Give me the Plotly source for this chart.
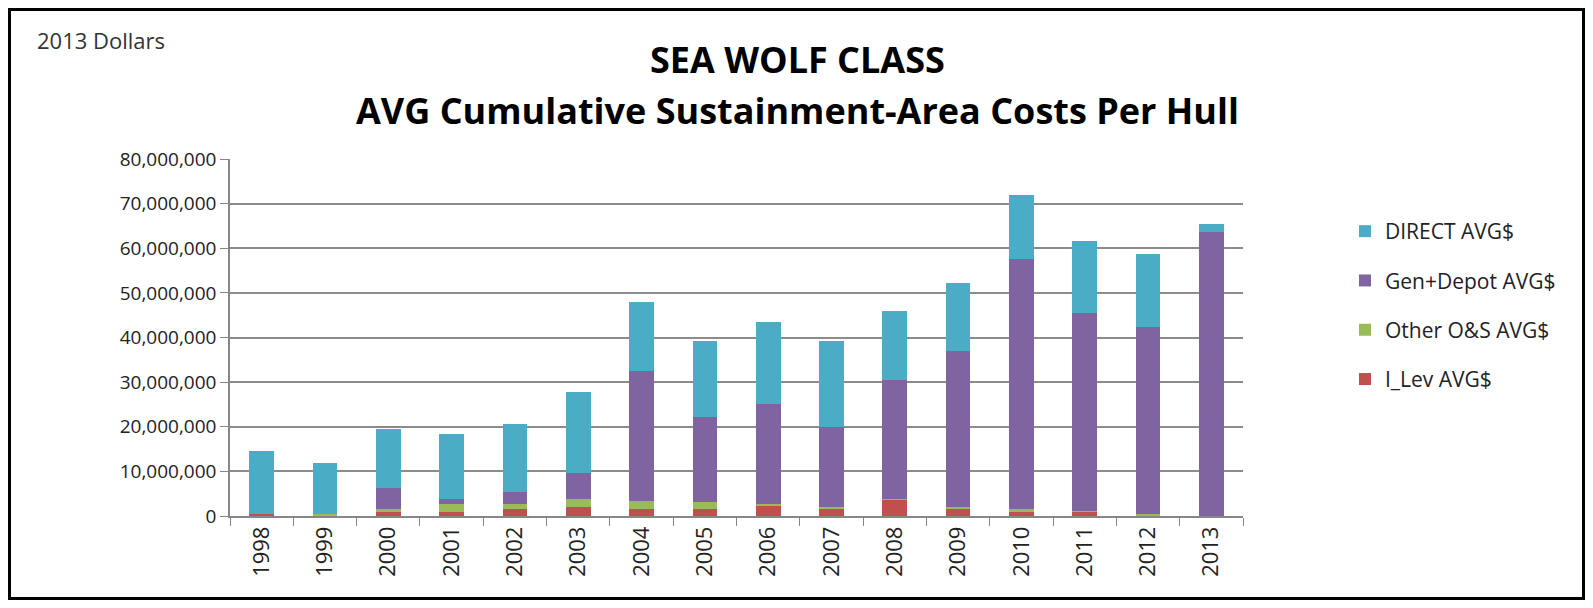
import plotly.graph_objects as go

years = [str(y) for y in range(1998, 2014)]

# values in millions of dollars
i_lev = [0.35, 0.1, 0.9, 0.9, 1.5, 2.0, 1.5, 1.5, 2.2, 1.5, 3.7, 1.5, 0.8, 1.0, 0.05, 0.0]
other_os = [0.0, 0.25, 0.7, 1.7, 1.2, 1.7, 1.8, 1.7, 0.5, 0.5, 0.05, 0.5, 0.8, 0.1, 0.3, 0.0]
gen_depot = [0.0, 0.0, 4.7, 1.1, 2.6, 5.9, 29.2, 19.0, 22.3, 18.0, 26.7, 35.0, 56.1, 44.4, 42.0, 63.7]
direct = [14.25, 11.55, 13.2, 14.7, 15.3, 18.1, 15.4, 17.0, 18.5, 19.2, 15.4, 15.3, 14.2, 16.1, 16.4, 1.7]

# stacked bottom to top; legend lists them top to bottom
series = [
    ("I_Lev AVG$", i_lev, "#C0504D"),
    ("Other O&S AVG$", other_os, "#9BBB59"),
    ("Gen+Depot AVG$", gen_depot, "#8064A2"),
    ("DIRECT AVG$", direct, "#4BACC6"),
]

# the page body has an 8px margin on every side; keep the figure inside the window
OFF = 8
W, H = 1593 - 2 * OFF, 608 - 2 * OFF
L = 230 - OFF
T = 159 - OFF
PW = 1243 - 230
PH = 516 - 159
R = W - L - PW
B = H - T - PH


def px_x(p):
    return (p - OFF - L) / PW


def px_y(p):
    return (T + PH - (p - OFF)) / PH


FONT = "Open Sans"

fig = go.Figure()
for i, (name, vals, color) in enumerate(series):
    fig.add_trace(go.Bar(
        x=years,
        y=[v * 1e6 for v in vals],
        name=name,
        legendgroup=name,
        legendrank=100 - i,
        marker=dict(color=color, line=dict(width=0)),
    ))

fig.update_layout(
    width=W, height=H,
    margin=dict(l=L, r=R, t=T, b=B),
    barmode="stack",
    bargap=0.61,
    plot_bgcolor="white",
    paper_bgcolor="white",
    font=dict(family=FONT, color="#222222"),
    showlegend=True,
    legend=dict(
        x=px_x(1345), y=px_y(211), xanchor="left", yanchor="top",
        traceorder="grouped", tracegroupgap=19,
        font=dict(size=21, family=FONT, color="#222222"),
        itemwidth=30,
    ),
    xaxis=dict(
        type="category",
        tickangle=-90,
        ticks="outside", tickson="boundaries", ticklen=8, tickcolor="#878787",
        showline=True, linecolor="#878787", linewidth=1.5,
        tickfont=dict(size=22, family=FONT, color="#222222"),
    ),
    yaxis=dict(
        range=[0, 80e6], dtick=10e6, tickformat=",",
        showgrid=True, gridcolor="#8c8c8c", gridwidth=1.5,
        showline=True, linecolor="#878787", linewidth=1.5,
        ticks="outside", ticklen=8, tickcolor="#878787",
        tickfont=dict(size=19, family=FONT, color="#222222"),
        zeroline=False,
    ),
    annotations=[
        dict(text="<b>SEA WOLF CLASS</b>", xref="paper", yref="paper",
             x=px_x(797), y=px_y(59), showarrow=False, xanchor="center", yanchor="middle",
             font=dict(size=36, family=FONT, color="black")),
        dict(text="<b>AVG Cumulative Sustainment-Area Costs Per Hull</b>", xref="paper", yref="paper",
             x=px_x(797), y=px_y(110), showarrow=False, xanchor="center", yanchor="middle",
             font=dict(size=36, family=FONT, color="black")),
        dict(text="2013 Dollars", xref="paper", yref="paper",
             x=px_x(35), y=px_y(40), showarrow=False, xanchor="left", yanchor="middle",
             font=dict(size=22, family=FONT, color="#333333")),
    ],
    shapes=[
        dict(type="rect", xref="paper", yref="paper",
             x0=px_x(OFF + 1.5), x1=px_x(1593 - OFF - 1.5), y0=px_y(OFF + 1.5), y1=px_y(608 - OFF - 1.5),
             line=dict(color="black", width=3), layer="below"),
    ],
)

fig.write_html("out.html")
